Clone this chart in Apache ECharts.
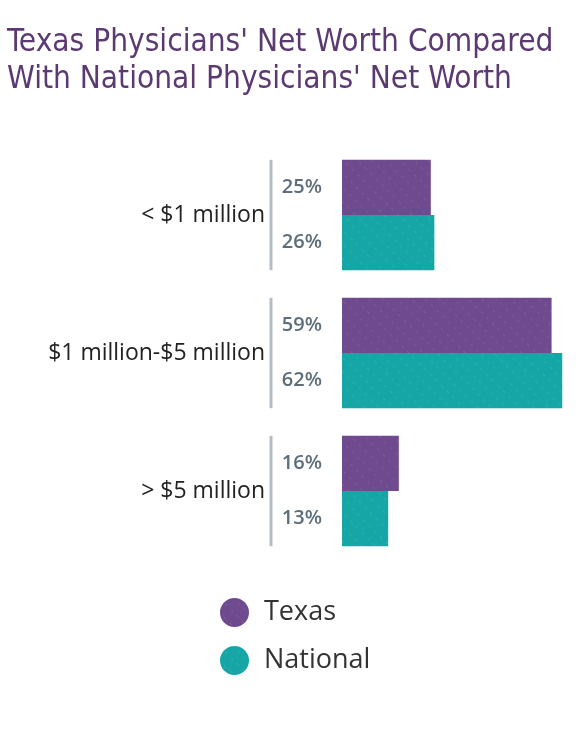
<!DOCTYPE html>
<html>
<head>
<meta charset="utf-8">
<script src="https://cdn.jsdelivr.net/npm/echarts@6/dist/echarts.min.js"></script>
<style>
  html, body { margin: 0; padding: 0; background: #fff; }
  #main { width: 580px; height: 749px; }
</style>
</head>
<body>
<div id="main"></div>
<script>
// 分类与数据
var categories = ['< $1 million', '$1 million-$5 million', '> $5 million'];
var texasValues = [25, 59, 16];
var nationalValues = [26, 62, 13];
var seriesNames = ['Texas', 'National'];

var purple = '#6f4a8e';
var teal = '#17a6a6';

var myChart = echarts.init(document.getElementById('main'));

// 条形上的细斜纹
var hatch = {
    symbol: 'rect',
    color: 'rgba(255,255,255,0.09)',
    dashArrayX: [[3, 5]],
    dashArrayY: [1, 9],
    rotation: Math.PI / 4
};

var pctLabel = {
    show: true,
    position: 'left',
    distance: 20,
    formatter: '{c}%',
    fontFamily: '"Open Sans", sans-serif',
    fontSize: 20,
    fontWeight: 600,
    color: '#5d6e7a'
};

var option = {
    backgroundColor: '#fff',
    animation: false,
    title: {
        text: "Texas Physicians' Net Worth Compared\nWith National Physicians' Net Worth",
        left: 2,
        top: 19,
        textStyle: {
            fontFamily: '"Liberation Sans Narrow", "DejaVu Sans Condensed", sans-serif',
            fontSize: 31.3,
            fontWeight: 'normal',
            color: '#5b3a72',
            lineHeight: 37
        }
    },
    legend: {
        orient: 'vertical',
        left: 215,
        top: 593,
        icon: 'circle',
        itemWidth: 29,
        itemHeight: 29,
        itemGap: 19,
        data: seriesNames,
        textStyle: {
            fontFamily: '"Open Sans", sans-serif',
            fontSize: 27,
            color: '#333',
            padding: [0, 0, 0, 10]
        }
    },
    grid: {
        left: 342,
        right: 0,
        top: 146,
        height: 414
    },
    xAxis: {
        type: 'value',
        min: 0,
        max: 67,
        show: false
    },
    yAxis: {
        type: 'category',
        inverse: true,
        data: categories,
        axisLine: { show: false },
        axisTick: { show: false },
        axisLabel: {
            margin: 77,
            fontFamily: '"Open Sans", sans-serif',
            fontSize: 23,
            color: '#222'
        }
    },
    series: [
        {
            name: seriesNames[0],
            type: 'bar',
            data: texasValues,
            barGap: '0%',
            barCategoryGap: '20%',
            itemStyle: { color: purple, decal: hatch },
            label: pctLabel
        },
        {
            name: seriesNames[1],
            type: 'bar',
            data: nationalValues,
            itemStyle: { color: teal, decal: hatch },
            label: pctLabel
        },
        {
            // 每组左侧的竖线
            type: 'custom',
            silent: true,
            data: categories.map(function (c, i) { return [0, i]; }),
            renderItem: function (params, api) {
                var p = api.coord([0, api.value(1)]);
                var h = api.size([0, 1])[1] * 0.8;
                return {
                    type: 'line',
                    shape: { x1: p[0] - 71, y1: p[1] - h / 2, x2: p[0] - 71, y2: p[1] + h / 2 },
                    style: { stroke: '#b3bcc2', lineWidth: 3 }
                };
            }
        }
    ]
};

myChart.setOption(option);
</script>
</body>
</html>
